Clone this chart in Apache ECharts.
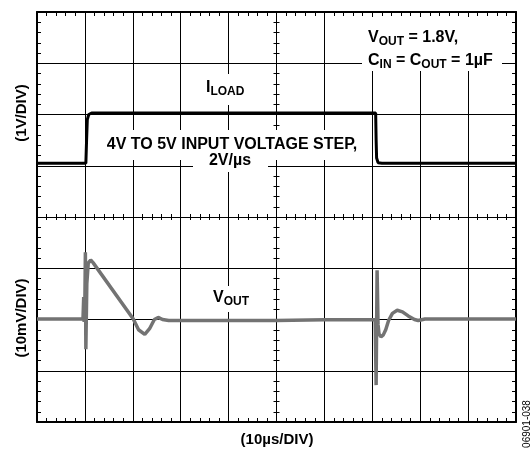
<!DOCTYPE html>
<html>
<head>
<meta charset="UTF-8">
<title>Input voltage step</title>
<script src="https://cdn.jsdelivr.net/npm/echarts@6/dist/echarts.min.js"></script>
<style>
html,body{margin:0;padding:0;background:#fff;}
#main{width:532px;height:452px;}
</style>
</head>
<body>
<div id="main"></div>
<script type="text/javascript">
// time base: 10 us per division, 10 divisions
var timeMin = 0, timeMax = 100, timeStep = 10;
// screen has 8 vertical divisions
var divMin = 0, divMax = 8;

// input voltage step (V), 1 V/div, 4 V sits on division 5
var stepTime  = [0, 10.2, 10.35, 10.5, 10.8, 11.4, 70.7, 70.8, 70.9, 71.2, 72, 100];
var stepVolts = [4.05, 4.05, 4.5, 4.9, 5.0, 5.03, 5.03, 4.5, 4.15, 4.06, 4.05, 4.05];

// output deviation (mV), 10 mV/div, 0 mV sits on division 2
var voutTime = [0, 9.6, 9.75, 9.85, 10.0, 10.1, 10.2, 10.4, 10.7, 11.2, 11.7, 20.1, 21.2, 22.5, 23.5,
  24.5, 25.3, 26.2, 27.5, 50, 60, 70.6, 70.8, 71.0, 71.2, 71.4, 71.8, 72.3, 72.8, 73.4, 74.2, 75.2,
  76.3, 77.5, 78.8, 79.6, 81, 100];
var voutMv = [0.1, 0.1, 4.4, -0.5, 4.0, 13.1, -5.8, 7.0, 11.0, 11.6, 11.1, 0.1, -2.0, -2.9, -1.8,
  0, 0.4, 0, -0.2, -0.2, -0.05, 0, -12.8, 9.6, -1.0, -2.8, -3.4, -3.0, -2.0, -0.2, 1.2, 1.8,
  1.5, 0.7, 0, -0.2, 0.1, 0.1];

var stepData = stepTime.map(function (t, i) { return [t, stepVolts[i] + 1]; });
var voutData = voutTime.map(function (t, i) { return [t, 2 + voutMv[i] / 10]; });

var FONT = '"Liberation Sans", Arial, sans-serif';

function axis(type, extra) {
  var a = {
    type: 'value',
    min: type == 'x' ? timeMin : divMin,
    max: type == 'x' ? timeMax : divMax,
    interval: type == 'x' ? timeStep : 1,
    axisLabel: { show: false },
    splitLine: { show: false },
    axisLine: { onZero: false, lineStyle: { color: '#000', width: 2 } },
    axisTick: { inside: true, length: 4, lineStyle: { color: '#000', width: 1 } },
    minorTick: { show: true, splitNumber: 5, length: 4, lineStyle: { color: '#000', width: 1 } }
  };
  for (var k in extra) a[k] = extra[k];
  return a;
}

var centreLine = { onZero: false, lineStyle: { color: '#000', width: 1 } };
var tickIn = { inside: true, length: 3, lineStyle: { color: '#000', width: 1 } };
var tickOut = { inside: false, length: 3, lineStyle: { color: '#000', width: 1 } };
var minorIn = { show: true, splitNumber: 5, length: 3, lineStyle: { color: '#000', width: 1 } };

function sub(text, x, y, align) {
  return {
    type: 'text', z: 10,
    style: {
      text: text, x: x, y: y, fill: '#000',
      font: 'bold 16px ' + FONT, lineHeight: 20,
      align: align || 'left', verticalAlign: 'middle',
      textAlign: align || 'left', textVerticalAlign: 'middle',
      rich: {
        s: { fontSize: 12, fontWeight: 'bold', fontFamily: FONT, lineHeight: 12, verticalAlign: 'bottom' }
      }
    }
  };
}
function box(x, y, w, h) {
  return { type: 'rect', z: 1, shape: { x: x, y: y, width: w, height: h }, style: { fill: '#fff' } };
}
function label(text, x, y, size, rot, weight) {
  return {
    type: 'text', z: 10, x: x, y: y, rotation: rot || 0,
    style: {
      text: text, x: 0, y: 0, fill: '#000',
      font: (weight || 'bold') + ' ' + size + 'px ' + FONT,
      align: 'center', verticalAlign: 'middle', textAlign: 'center', textVerticalAlign: 'middle'
    }
  };
}

var chart = echarts.init(document.getElementById('main'));
chart.setOption({
  animation: false,
  backgroundColor: '#fff',
  grid: { left: 37, top: 12, width: 479, height: 410 },
  xAxis: [
    axis('x', { position: 'bottom', splitLine: { show: true, lineStyle: { color: '#000', width: 1 } } }),
    axis('x', { position: 'top' }),
    axis('x', { position: 'bottom', offset: -205, axisLine: centreLine, axisTick: tickIn, minorTick: minorIn }),
    axis('x', { position: 'bottom', offset: -205, axisLine: centreLine, axisTick: tickOut, minorTick: minorIn })
  ],
  yAxis: [
    axis('y', { position: 'left', splitLine: { show: true, lineStyle: { color: '#000', width: 1 } } }),
    axis('y', { position: 'right' }),
    axis('y', { position: 'left', offset: -239.5, axisLine: centreLine, axisTick: tickIn, minorTick: minorIn }),
    axis('y', { position: 'left', offset: -239.5, axisLine: centreLine, axisTick: tickOut, minorTick: minorIn })
  ],
  series: [
    {
      type: 'line', data: stepData, showSymbol: false, z: 5,
      lineStyle: { color: '#000', width: 3 }
    },
    {
      type: 'line', data: voutData, showSymbol: false, z: 4,
      lineStyle: { color: '#737373', width: 3.5 }
    }
  ],
  graphic: [
    box(362, 17, 140, 54),
    box(192, 74, 72, 31),
    box(90, 130, 282, 30),
    box(193, 153, 75, 19),
    box(205, 286, 57, 26),
    sub('V{s|OUT} = 1.8V,', 368, 38),
    sub('C{s|IN} = C{s|OUT} = 1µF', 368, 61),
    sub('I{s|LOAD}', 206, 88),
    sub('4V TO 5V INPUT VOLTAGE STEP,', 232, 145, 'center'),
    sub('2V/µs', 230, 161, 'center'),
    sub('V{s|OUT}', 213, 298),
    label('(1V/DIV)', 22, 113, 15, Math.PI / 2),
    label('(10mV/DIV)', 22, 318, 15, Math.PI / 2),
    label('(10µs/DIV)', 277, 440, 15, 0),
    label('06901-038', 527, 424, 10, Math.PI / 2, 'normal')
  ]
});
</script>
</body>
</html>
